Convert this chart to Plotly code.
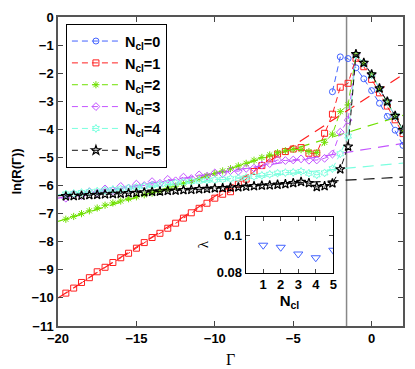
import plotly.graph_objects as go

# ---------------- data ----------------
gamma = [-19.5, -19.0, -18.5, -18.0, -17.5, -17.0, -16.5, -16.0, -15.5, -15.0,
         -14.5, -14.0, -13.5, -13.0, -12.5, -12.0, -11.5, -11.0, -10.5, -10.0,
         -9.5, -9.0, -8.5, -8.0, -7.5, -7.0, -6.5, -6.0, -5.5, -5.0,
         -4.5, -4.0, -3.5, -3.0, -2.5, -2.0, -1.5, -1.0, -0.5, 0.0,
         0.5, 1.0, 1.5, 2.0]

gamma_n0 = [-2.5, -2.0, -1.5, -1.0, -0.5, 0.0, 0.5, 1.0, 1.5, 2.0]
lnR_n0 = [-2.66, -1.42, -1.48, -1.81, -2.20, -2.62, -3.07, -3.54, -4.03, -4.57]

lnR_n1 = [-9.83, -9.65, -9.45, -9.28, -9.07, -8.91, -8.74, -8.57, -8.41, -8.23,
          -8.03, -7.85, -7.70, -7.52, -7.34, -7.16, -6.97, -6.81, -6.63, -6.45,
          -6.31, -6.22, -5.95, -5.77, -5.50, -5.29, -5.05, -4.88, -4.79, -4.70,
          -4.65, -4.85, -4.85, -4.14, -3.46, -2.50, -2.36, -1.47, -1.77, -2.22,
          -2.70, -3.17, -3.66, -4.15]

lnR_n2 = [-7.20, -7.10, -7.00, -6.90, -6.80, -6.70, -6.62, -6.55, -6.47, -6.40,
          -6.33, -6.27, -6.20, -6.10, -6.02, -5.94, -5.85, -5.76, -5.66, -5.57,
          -5.48, -5.40, -5.30, -5.21, -5.10, -5.00, -4.91, -4.83, -4.76, -4.71,
          -4.72, -4.79, -4.83, -4.46, -4.17, -3.37, -3.13, -1.35, -1.65, -2.06,
          -2.55, -3.03, -3.53, -4.03]

lnR_n3 = [-6.45, -6.30, -6.36, -6.22, -6.27, -6.12, -6.18, -6.03, -6.09, -5.95,
          -6.00, -5.86, -5.92, -5.78, -5.83, -5.70, -5.75, -5.62, -5.67, -5.55,
          -5.58, -5.47, -5.49, -5.39, -5.38, -5.27, -5.22, -5.09, -5.11, -5.09,
          -5.05, -5.10, -5.09, -5.03, -4.88, -4.10, -3.67, -1.34, -1.64, -2.05,
          -2.55, -3.02, -3.52, -4.03]

lnR_n4 = [-6.30, -6.28, -6.25, -6.22, -6.20, -6.17, -6.14, -6.12, -6.09, -6.06,
          -6.03, -6.00, -5.97, -5.94, -5.91, -5.88, -5.86, -5.84, -5.82, -5.80,
          -5.78, -5.76, -5.74, -5.72, -5.68, -5.64, -5.60, -5.56, -5.54, -5.53,
          -5.50, -5.56, -5.62, -5.55, -5.40, -4.87, -4.24, -1.34, -1.64, -2.05,
          -2.55, -3.02, -3.52, -4.03]

lnR_n5 = [-6.38, -6.37, -6.36, -6.34, -6.33, -6.31, -6.30, -6.29, -6.27, -6.26,
          -6.24, -6.22, -6.21, -6.19, -6.18, -6.16, -6.15, -6.13, -6.12, -6.10,
          -6.09, -6.07, -6.06, -6.04, -6.02, -6.00, -5.99, -5.97, -5.95, -5.91,
          -5.87, -5.91, -6.05, -6.02, -5.92, -5.42, -4.61, -1.32, -1.63, -2.04,
          -2.54, -3.01, -3.52, -4.02]

# linear fits (value at gamma = -20 and at gamma = 2)
fit_gamma = [-20.0, 2.0]
fit_n1 = [-10.00, -2.05]
fit_n2 = [-7.28, -3.50]
fit_n3 = [-6.45, -4.50]
fit_n4 = [-6.33, -5.20]
fit_n5 = [-6.36, -5.70]

gamma_c = -1.6  # vertical reference line

# inset
ncl = [1, 2, 3, 4, 5]
lam = [0.0947, 0.0936, 0.0900, 0.0880, 0.0920]

labels = ["N<sub>cl</sub>=0", "N<sub>cl</sub>=1", "N<sub>cl</sub>=2",
          "N<sub>cl</sub>=3", "N<sub>cl</sub>=4", "N<sub>cl</sub>=5"]
x_ticks = [-20, -15, -10, -5, 0]
y_ticks = [0, -1, -2, -3, -4, -5, -6, -7, -8, -9, -10, -11]

# ---------------- styles ----------------
colors = ["#4262ff", "#ff1f1f", "#6fe000", "#c455ff", "#7affdf", "#111111"]
symbols = ["circle-open", "square-open", "asterisk-open", "diamond-open",
           "hexagram-open", "star-open"]

fig = go.Figure()

series = [(gamma_n0, lnR_n0), (gamma, lnR_n1), (gamma, lnR_n2),
          (gamma, lnR_n3), (gamma, lnR_n4), (gamma, lnR_n5)]
fits = [None, fit_n1, fit_n2, fit_n3, fit_n4, fit_n5]

for i, f in enumerate(fits):
    if f is not None:
        fig.add_trace(go.Scatter(x=fit_gamma, y=f, mode="lines",
                                 line=dict(color=colors[i], width=1.2, dash="11px,7px"),
                                 showlegend=False, hoverinfo="skip"))

for i, (xs, ys) in enumerate(series):
    mk = dict(symbol=symbols[i], size=6, color=colors[i],
              line=dict(color=colors[i], width=1))
    if i == 5:
        mk = dict(symbol="star-open", size=7, color="#000000",
                  line=dict(color="#000000", width=1.2))
    fig.add_trace(go.Scatter(x=xs, y=ys, mode="lines+markers",
                             name="<b>" + labels[i] + "</b>",
                             line=dict(color=colors[i], width=1, dash="6px,4px"),
                             marker=mk))

# inset
fig.add_trace(go.Scatter(x=ncl, y=lam, mode="markers", xaxis="x2", yaxis="y2",
                         marker=dict(symbol="triangle-down-open", size=8, color="#4262ff",
                                     line=dict(width=1)),
                         showlegend=False))

fig.add_shape(type="line", xref="x", yref="paper", x0=gamma_c, x1=gamma_c, y0=0, y1=1,
              line=dict(color="#888888", width=1.5), layer="below")

tick_font = dict(family="Liberation Sans", size=13, color="black", weight="bold")

fig.update_layout(
    width=415, height=369,
    margin=dict(l=58, r=12, t=17, b=43, autoexpand=False),
    paper_bgcolor="white", plot_bgcolor="white",
    showlegend=True,
    legend=dict(x=0.023, y=0.977, xanchor="left", yanchor="top",
                bgcolor="white", bordercolor="black", borderwidth=1,
                font=dict(family="Liberation Sans", size=14.5, color="black"),
                itemwidth=48),
    xaxis=dict(range=[-20, 2], tickvals=x_ticks, ticks="inside", ticklen=5,
               showline=True, linecolor="#555555", linewidth=1.5, mirror="ticks",
               showgrid=False, zeroline=False, tickfont=tick_font, automargin=False,
               title=dict(text="Γ", font=dict(family="Liberation Serif", size=16, color="black"),
                          standoff=8)),
    yaxis=dict(range=[-11, 0], tickvals=y_ticks, ticks="inside", ticklen=5,
               showline=True, linecolor="#555555", linewidth=1.5, mirror="ticks",
               showgrid=False, zeroline=False, tickfont=tick_font, automargin=False,
               title=dict(text="<b>ln(R(Γ))</b>",
                          font=dict(family="Liberation Sans", size=13, color="black"),
                          standoff=7)),
    xaxis2=dict(domain=[0.544, 0.798], anchor="y2", range=[0, 5], tickvals=ncl,
                ticks="inside", ticklen=4, showline=True, linecolor="black", linewidth=1,
                mirror="ticks", showgrid=False, zeroline=False, tickfont=tick_font,
                automargin=False,
                title=dict(text="<b>N<sub>cl</sub></b>",
                           font=dict(family="Liberation Sans", size=15, color="black"),
                           standoff=4)),
    yaxis2=dict(domain=[0.1725, 0.354], anchor="x2", range=[0.08, 0.11],
                tickvals=[0.08, 0.1], ticktext=["0.08", "0.1"],
                ticks="inside", ticklen=4, showline=True, linecolor="black", linewidth=1,
                mirror="ticks", showgrid=False, zeroline=False, tickfont=tick_font,
                automargin=False,
                title=dict(text="λ", font=dict(family="Liberation Serif", size=15, color="black"),
                           standoff=4)),
)

fig.write_html("out.html", config={"displayModeBar": False},
               post_script="document.body.style.margin='0px';")
